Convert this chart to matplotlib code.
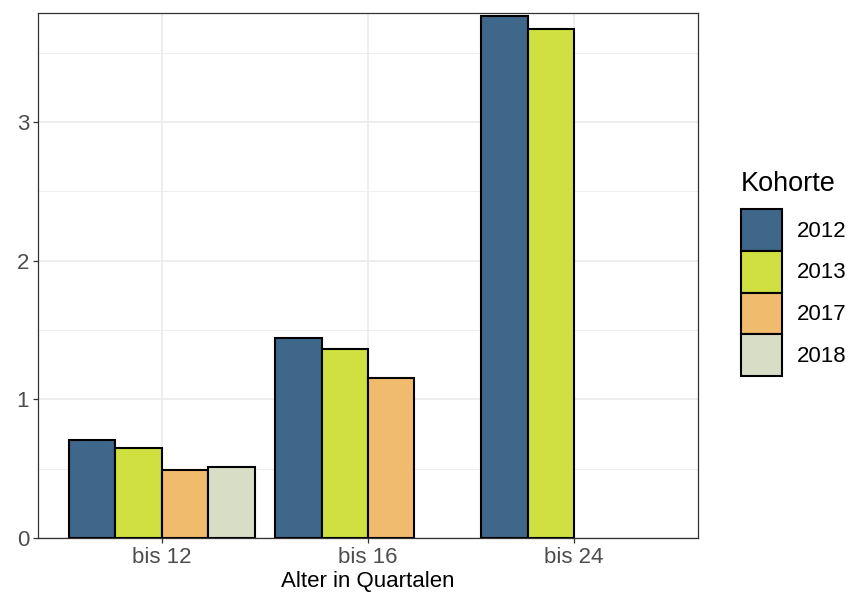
import matplotlib.pyplot as plt
import numpy as np
from matplotlib.patches import Patch

plt.rcParams['font.family'] = ['Liberation Sans', 'DejaVu Sans']

groups = ["bis 12", "bis 16", "bis 24"]
cohorts = ["2012", "2013", "2017", "2018"]
values = {
    "2012": [0.705, 1.44, 3.763],
    "2013": [0.647, 1.365, 3.672],
    "2017": [0.49, 1.155, np.nan],
    "2018": [0.51, np.nan, np.nan],
}
colors = ["#3e678a", "#cfe040", "#f0bb6c", "#d8ddc6"]

fig = plt.figure(figsize=(8.49, 6), dpi=100)
ax = fig.add_axes([0.0448, 0.1033, 0.7772, 0.8757])

x = np.arange(1, len(groups) + 1)
width = 0.9 / len(cohorts)
for i, c in enumerate(cohorts):
    offs = (i - (len(cohorts) - 1) / 2) * width
    ax.bar(x + offs, values[c], width=width, color=colors[i],
           edgecolor="black", linewidth=1.5, zorder=3)

ax.set_xlim(0.4, 3.6)
ax.set_ylim(0, 3.79)
ax.set_xticks(x)
ax.set_xticklabels(groups)
ax.set_yticks([0, 1, 2, 3])
ax.set_yticks([0.5, 1.5, 2.5, 3.5], minor=True)
ax.grid(which="major", color="#ebebeb", linewidth=1.2, zorder=0)
ax.grid(which="minor", axis="y", color="#ebebeb", linewidth=0.6, zorder=0)
ax.tick_params(which="major", length=3.5, width=0.9, color="#333333",
               labelcolor="#4d4d4d", labelsize=16, pad=3)
ax.tick_params(which="minor", length=0)
for s in ax.spines.values():
    s.set_color("#333333")
    s.set_linewidth(0.9)
ax.set_axisbelow(True)
ax.set_xlabel("Alter in Quartalen", fontsize=16, color="black", labelpad=2)

# legend (title drawn separately to get the ggplot spacing)
handles = [Patch(facecolor=colors[i], edgecolor="black", linewidth=1.5, label=c)
           for i, c in enumerate(cohorts)]
leg = fig.legend(handles=handles, loc="upper left",
                 bbox_to_anchor=(0.8598, 1 - 198 / 600), frameon=False, fontsize=16,
                 handlelength=1.85, handleheight=2.51,
                 handletextpad=0.68, labelspacing=0.0, borderpad=0)
fig.text(741 / 849, 1 - 191 / 600, "Kohorte", fontsize=19.5, va="baseline", ha="left")

fig.savefig("out.png", dpi=100)
